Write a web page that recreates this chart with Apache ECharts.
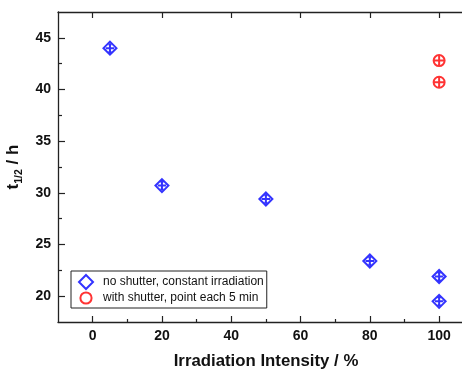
<!DOCTYPE html>
<html>
<head>
<meta charset="utf-8">
<script src="https://cdn.jsdelivr.net/npm/echarts@6/dist/echarts.min.js"></script>
<style>
html,body{margin:0;padding:0;background:#fff;}
#chart{width:462px;height:369px;}
</style>
</head>
<body>
<div id="chart"></div>
<script>
// Data
const noShutterX = [5, 20, 50, 80, 100, 100];
const noShutterY = [44.0, 30.7, 29.4, 23.4, 21.9, 19.5];
const shutterX = [100, 100];
const shutterY = [42.8, 40.7];
const seriesNames = ['no shutter, constant irradiation', 'with shutter, point each 5 min'];
const xMajorTicks = [0, 20, 40, 60, 80, 100];
const xMinorTicks = [10, 30, 50, 70, 90];
const yMajorTicks = [20, 25, 30, 35, 40, 45];
const yMinorTicks = [22.5, 27.5, 32.5, 37.5, 42.5];

const font = 'Liberation Sans, Arial, sans-serif';
const axisColor = '#222';
const xMin = -10, xMax = 106.6, yMin = 17.5, yMax = 47.5;

const diamondPath = 'path://M7,0L14,7L7,14L0,7Z M2.5,7L11.5,7 M7,3L7,11 M5.5,3L8.5,3 M5.5,11L8.5,11';
const circlePath = 'path://M6,0A6,6 0 1,1 5.99,0Z M1,6L11,6 M6,1L6,11';
const diamondIcon = 'path://M7,0L14,7L7,14L0,7Z';
const circleIcon = 'path://M6,0A6,6 0 1,1 5.99,0Z M-1.5,-1.5L-1.49,-1.5 M13.5,13.5L13.49,13.5';

function pairs(xs, ys) { return xs.map((x, i) => [x, ys[i]]); }

const chart = echarts.init(document.getElementById('chart'), null, {renderer: 'canvas'});
const baseX = {type: 'value', min: xMin, max: xMax, splitLine: {show: false}};
const baseY = {type: 'value', min: yMin, max: yMax, splitLine: {show: false}};

chart.setOption({
  animation: false,
  backgroundColor: '#fff',
  grid: {left: 58, right: 0, top: 12, bottom: 47, containLabel: false, outerBoundsMode: 'none'},
  xAxis: [
    Object.assign({}, baseX, {
      position: 'bottom',
      axisLine: {show: true, onZero: false, lineStyle: {color: axisColor, width: 1.3}},
      axisTick: {show: true, inside: true, length: 6, customValues: xMajorTicks, lineStyle: {color: axisColor, width: 1.2}},
      axisLabel: {show: true, customValues: xMajorTicks, margin: 7, color: '#111', fontFamily: font, fontWeight: 'bold', fontSize: 14},
      name: 'Irradiation Intensity / %',
      nameLocation: 'middle',
      nameGap: 31,
      nameTextStyle: {color: '#111', fontFamily: font, fontWeight: 'bold', fontSize: 16.8, padding: [0, 0, 0, 12]}
    }),
    Object.assign({}, baseX, {
      position: 'bottom',
      axisLine: {show: false, onZero: false},
      axisTick: {show: true, inside: true, length: 3, customValues: xMinorTicks, lineStyle: {color: axisColor, width: 1.2}},
      axisLabel: {show: false}
    }),
    Object.assign({}, baseX, {
      position: 'top',
      axisLine: {show: true, onZero: false, lineStyle: {color: axisColor, width: 1.3}},
      axisTick: {show: true, inside: true, length: 6, customValues: xMajorTicks, lineStyle: {color: axisColor, width: 1.2}},
      axisLabel: {show: false}
    })
  ],
  yAxis: [
    Object.assign({}, baseY, {
      position: 'left',
      axisLine: {show: true, onZero: false, lineStyle: {color: axisColor, width: 1.3}},
      axisTick: {show: true, inside: true, length: 7, customValues: yMajorTicks, lineStyle: {color: axisColor, width: 1.2}},
      axisLabel: {show: true, customValues: yMajorTicks, margin: 7, color: '#111', fontFamily: font, fontWeight: 'bold', fontSize: 14},
      name: '{t|t}{s|1/2}{t| / h}',
      nameLocation: 'middle',
      nameGap: 28,
      nameTextStyle: {
        color: '#111', fontFamily: font, fontWeight: 'bold', fontSize: 17,
        rich: {
          t: {fontFamily: font, fontWeight: 'bold', fontSize: 17, color: '#111', lineHeight: 20, verticalAlign: 'bottom'},
          s: {fontFamily: font, fontWeight: 'bold', fontSize: 10.5, color: '#111', lineHeight: 20, verticalAlign: 'bottom', padding: [0, 0, -3, 0]}
        }
      }
    }),
    Object.assign({}, baseY, {
      position: 'left',
      axisLine: {show: false, onZero: false},
      axisTick: {show: true, inside: true, length: 4, customValues: yMinorTicks, lineStyle: {color: axisColor, width: 1.2}},
      axisLabel: {show: false}
    })
  ],
  legend: {
    orient: 'vertical',
    left: 71,
    top: 271,
    padding: [3, 3, 2, 7],
    itemWidth: 24,
    itemHeight: 14,
    itemGap: 0,
    symbolKeepAspect: true,
    borderColor: '#222',
    borderWidth: 1,
    backgroundColor: '#fff',
    textStyle: {fontFamily: font, fontSize: 12, color: '#111'},
    data: [
      {name: seriesNames[0], icon: diamondIcon},
      {name: seriesNames[1], icon: circleIcon}
    ]
  },
  series: [
    {
      name: seriesNames[0],
      type: 'scatter',
      xAxisIndex: 0, yAxisIndex: 0,
      symbol: diamondPath,
      symbolSize: 13,
      symbolKeepAspect: true,
      itemStyle: {color: 'rgba(0,0,0,0)', borderColor: '#0000ff', borderWidth: 2},
      data: pairs(noShutterX, noShutterY)
    },
    {
      name: seriesNames[1],
      type: 'scatter',
      xAxisIndex: 0, yAxisIndex: 0,
      symbol: circlePath,
      symbolSize: 11,
      symbolKeepAspect: true,
      itemStyle: {color: 'rgba(0,0,0,0)', borderColor: '#ff0000', borderWidth: 2},
      data: pairs(shutterX, shutterY)
    }
  ]
});
</script>
</body>
</html>
